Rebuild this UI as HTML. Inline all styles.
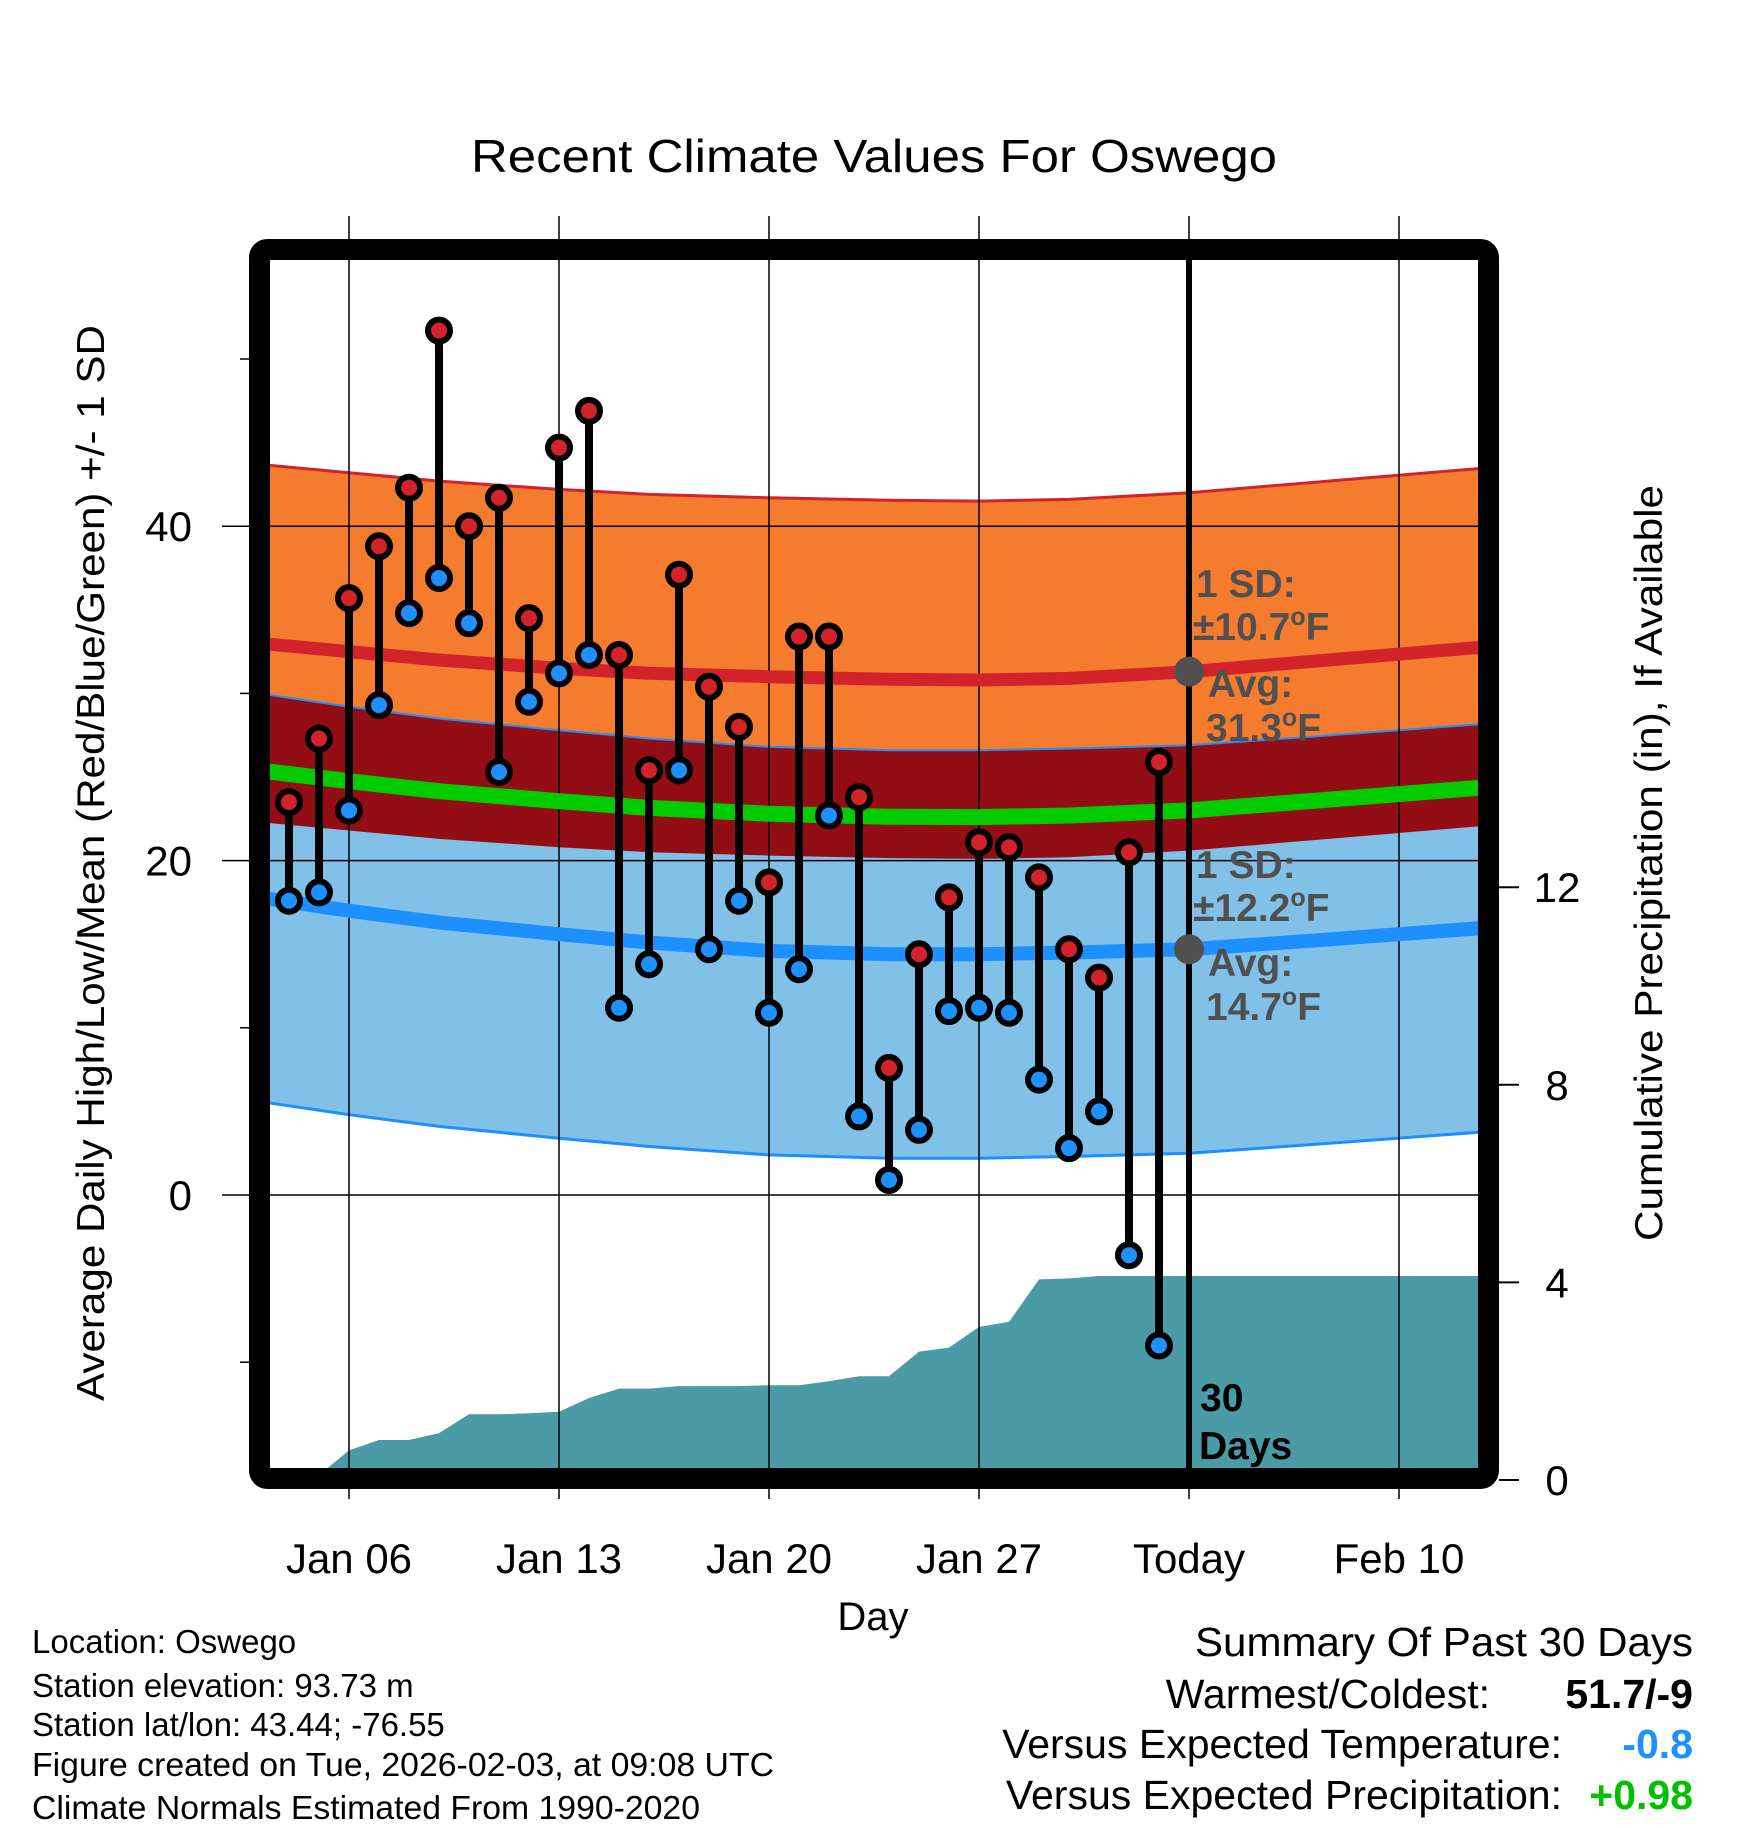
<!DOCTYPE html>
<html><head><meta charset="utf-8"><style>
html,body{margin:0;padding:0;background:#fff}
svg{display:block;font-family:"Liberation Sans",Arial,sans-serif}
</style></head><body>
<svg id="chart" width="1748" height="1828" viewBox="0 0 1748 1828" xmlns="http://www.w3.org/2000/svg">
<defs><clipPath id="plotclip"><rect x="270" y="260" width="1208" height="1208"/></clipPath></defs>
<text x="874" y="172" font-size="46" text-anchor="middle" textLength="806" lengthAdjust="spacingAndGlyphs">Recent Climate Values For Oswego</text>
<g id="bands" clip-path="url(#plotclip)"></g>
<g id="precip" clip-path="url(#plotclip)"></g>
<g id="grid"></g>
<g id="means" clip-path="url(#plotclip)"></g>
<g id="pts"></g>
<g id="annot" font-weight="bold" fill="#505050" font-size="39">
<text x="1196" y="597">1 SD:</text>
<text x="1193" y="640">±10.7<tspan font-size="25" dy="-15">o</tspan><tspan dy="15">F</tspan></text>
<text x="1208" y="697">Avg:</text>
<text x="1206" y="741">31.3<tspan font-size="25" dy="-15">o</tspan><tspan dy="15">F</tspan></text>
<text x="1196" y="878">1 SD:</text>
<text x="1193" y="921">±12.2<tspan font-size="25" dy="-15">o</tspan><tspan dy="15">F</tspan></text>
<text x="1208" y="976">Avg:</text>
<text x="1206" y="1020">14.7<tspan font-size="25" dy="-15">o</tspan><tspan dy="15">F</tspan></text>
<text x="1200" y="1411" fill="#000">30</text>
<text x="1199" y="1459" fill="#000">Days</text>
</g>
<rect x="259.5" y="249.5" width="1229" height="1229" rx="8" fill="none" stroke="#000" stroke-width="21"/>
<g id="axes"></g>
<text transform="translate(104,863) rotate(-90)" font-size="39" text-anchor="middle" textLength="1076" lengthAdjust="spacingAndGlyphs">Average Daily High/Low/Mean (Red/Blue/Green) +/- 1 SD</text>
<text transform="translate(1662,863) rotate(-90)" font-size="39" text-anchor="middle" textLength="756" lengthAdjust="spacingAndGlyphs">Cumulative Precipitation (in), If Available</text>
<text x="873" y="1630" font-size="40" text-anchor="middle">Day</text>
<g font-size="33">
<text x="32" y="1653">Location: Oswego</text>
<text x="32" y="1697">Station elevation: 93.73 m</text>
<text x="32" y="1736">Station lat/lon: 43.44; -76.55</text>
<text x="32" y="1776" textLength="742" lengthAdjust="spacingAndGlyphs">Figure created on Tue, 2026-02-03, at 09:08 UTC</text>
<text x="32" y="1819" textLength="668" lengthAdjust="spacingAndGlyphs">Climate Normals Estimated From 1990-2020</text>
</g>
<g font-size="41" text-anchor="end">
<text x="1693" y="1656" textLength="498" lengthAdjust="spacingAndGlyphs">Summary Of Past 30 Days</text>
<text x="1490" y="1708">Warmest/Coldest:</text>
<text x="1693" y="1708" font-weight="bold">51.7/-9</text>
<text x="1562" y="1758">Versus Expected Temperature:</text>
<text x="1693" y="1758" font-weight="bold" fill="#1e90ff">-0.8</text>
<text x="1562" y="1809">Versus Expected Precipitation:</text>
<text x="1693" y="1809" font-weight="bold" fill="#00c000">+0.98</text>
</g>
</svg>
<script>
const days = [4,5,6,7,8,9,10,11,12,13,14,15,16,17,18,19,20,21,22,23,24,25,26,27,28,29,30,31,32,33];
const highs = [23.5,27.3,35.7,38.8,42.3,51.7,40.0,41.7,34.5,44.7,46.9,32.3,25.4,37.1,30.4,28.0,18.7,33.4,33.4,23.8,7.6,14.4,17.8,21.1,20.8,19.0,14.7,13.0,20.5,25.9];
const lows = [17.6,18.1,23.0,29.3,34.8,36.9,34.2,25.3,29.5,31.2,32.3,11.2,13.8,25.4,14.7,17.6,10.9,13.5,22.7,4.7,0.9,3.9,11.0,11.2,10.9,6.9,2.8,5.0,-3.6,-9.0];
const precipDays = [5,6,7,8,9,10,11,12,13,14,15,16,17,18,19,20,21,22,23,24,25,26,27,28,29,30,31,32,33,34,44];
const precipVals = [0.1,0.6,0.81,0.81,0.95,1.33,1.33,1.35,1.38,1.66,1.85,1.85,1.9,1.9,1.9,1.92,1.92,2.0,2.1,2.1,2.6,2.68,3.1,3.2,4.06,4.08,4.13,4.13,4.13,4.13,4.13];
const normDays = [3,6,9,13,16,20,24,27,30,34,38,44];
const highMean = [33.0,32.5,32.0,31.5,31.2,31.0,30.85,30.8,30.9,31.3,31.9,32.8];
const lowMean = [17.8,17.0,16.3,15.6,15.1,14.6,14.4,14.4,14.5,14.7,15.2,16.0];
const highSD = 10.7, lowSD = 12.2;
const xTickDays = [6,13,20,27,34,41];
const xTickLabels = ["Jan 06","Jan 13","Jan 20","Jan 27","Today","Feb 10"];
const yTicks = [0,20,40];
const yMinor = [-10,10,30,50];
const pTicks = [0,4,8,12];

const NS="http://www.w3.org/2000/svg";
const X = d => 349 + (d-6)*30;
const Y = t => 1195 - 16.72*t;
const P = v => 1480 - 49.4*v;
function mk(parent,tag,attrs){const e=document.createElementNS(NS,tag);for(const k in attrs)e.setAttribute(k,attrs[k]);parent.appendChild(e);return e;}
function line(arr){return arr.map((v,i)=>(i?'L':'M')+X(normDays[i]).toFixed(1)+','+Y(v).toFixed(1)).join('');}
function band(up,lo){return line(up)+lo.slice().reverse().map((v,i)=>'L'+X(normDays[lo.length-1-i]).toFixed(1)+','+Y(v).toFixed(1)).join('')+'Z';}
const hU=highMean.map(v=>v+highSD), hL=highMean.map(v=>v-highSD);
const lU=lowMean.map(v=>v+lowSD), lL=lowMean.map(v=>v-lowSD);
const midMean=highMean.map((v,i)=>(v+lowMean[i])/2);
const bands=document.getElementById('bands');
let e;
e=mk(bands,'path',{d:band(hU,hL),fill:'#f57b2f'});


e=mk(bands,'path',{d:band(lU,lL),fill:'#82c1e7'});


e=mk(bands,'path',{d:band(lU,hL),fill:'#930e14'});


e=mk(bands,'path',{d:line(hU),fill:'none',stroke:'#d2232a','stroke-width':3});


e=mk(bands,'path',{d:line(lU),fill:'none',stroke:'#1e8fff','stroke-width':2});


e=mk(bands,'path',{d:line(lL),fill:'none',stroke:'#1e8fff','stroke-width':3});


const pg=document.getElementById('precip');
let pd='M'+X(precipDays[0])+','+P(0);
precipDays.forEach((d,i)=>{pd+='L'+X(d).toFixed(1)+','+P(precipVals[i]).toFixed(1);});
pd+='L'+X(precipDays[precipDays.length-1])+','+P(0)+'Z';
e=mk(pg,'path',{d:pd,fill:'#4a9ba5'});


const gg=document.getElementById('grid');
xTickDays.forEach(d=>{
  e=mk(gg,'line',{x1:X(d),x2:X(d),y1:216,y2:1499,stroke:'#000','stroke-width':1.5});
  
  
});
yTicks.forEach(t=>{
  e=mk(gg,'line',{x1:222,x2:1478,y1:Y(t),y2:Y(t),stroke:'#000','stroke-width':1.5});
  
  
});
const mg=document.getElementById('means');
e=mk(mg,'path',{d:line(highMean),fill:'none',stroke:'#d2232a','stroke-width':13});


e=mk(mg,'path',{d:line(lowMean),fill:'none',stroke:'#1e8fff','stroke-width':14});


e=mk(mg,'path',{d:line(midMean),fill:'none',stroke:'#00cc00','stroke-width':16});


e=mk(mg,'line',{x1:X(34),x2:X(34),y1:250,y2:1470,stroke:'#000','stroke-width':6});


e=mk(mg,'circle',{cx:X(34),cy:Y(31.3),r:15,fill:'#505050'});


e=mk(mg,'circle',{cx:X(34),cy:Y(14.7),r:15,fill:'#505050'});


const ptg=document.getElementById('pts');
days.forEach((d,i)=>{
  e=mk(ptg,'line',{x1:X(d),x2:X(d),y1:Y(highs[i]),y2:Y(lows[i]),stroke:'#000','stroke-width':8});
  
  
  e=mk(ptg,'circle',{cx:X(d),cy:Y(highs[i]),r:11,fill:'#d2232a',stroke:'#000','stroke-width':6});
  
  
  e=mk(ptg,'circle',{cx:X(d),cy:Y(lows[i]),r:11,fill:'#1e90ff',stroke:'#000','stroke-width':6});
  
  
});
const ag=document.getElementById('axes');
xTickDays.forEach((d,i)=>{
  e=mk(ag,'text',{x:X(d),y:1573,'font-size':42,'text-anchor':'middle'});
  e.textContent=xTickLabels[i];
  
  
});
yTicks.forEach(t=>{
  e=mk(ag,'text',{x:192,y:Y(t)+15,'font-size':42,'text-anchor':'end'});
  e.textContent=String(t);
  
  
});
yMinor.forEach(t=>{
  e=mk(ag,'line',{x1:240,x2:249,y1:Y(t),y2:Y(t),stroke:'#000','stroke-width':1.5});
  
  
});
pTicks.forEach(v=>{
  e=mk(ag,'line',{x1:1499,x2:1519,y1:P(v),y2:P(v),stroke:'#000','stroke-width':2});
  
  
  e=mk(ag,'text',{x:1557,y:P(v)+15,'font-size':42,'text-anchor':'middle'});
  e.textContent=String(v);
  
  
});
</script>
</body></html>
